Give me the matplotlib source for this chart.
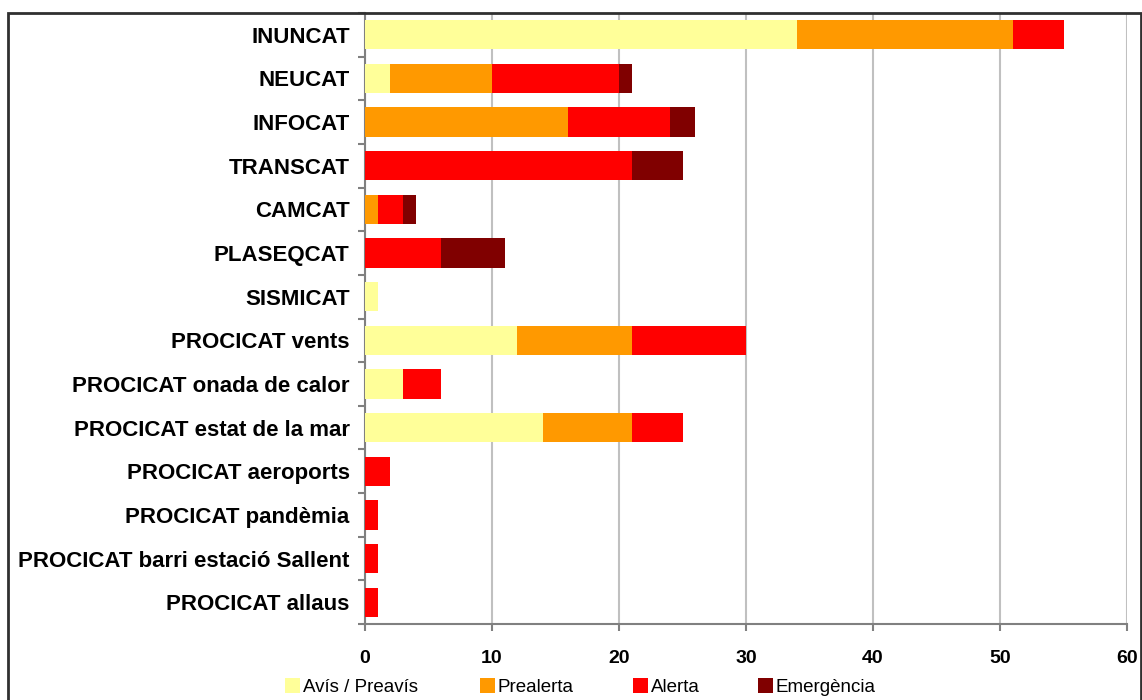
import matplotlib
matplotlib.use("Agg")
import matplotlib.pyplot as plt
from matplotlib.patches import Rectangle, Patch
import numpy as np

categories = ["INUNCAT", "NEUCAT", "INFOCAT", "TRANSCAT", "CAMCAT", "PLASEQCAT",
              "SISMICAT", "PROCICAT vents", "PROCICAT onada de calor",
              "PROCICAT estat de la mar", "PROCICAT aeroports", "PROCICAT pandèmia",
              "PROCICAT barri estació Sallent", "PROCICAT allaus"]
avis = [34, 2, 0, 0, 0, 0, 1, 12, 3, 14, 0, 0, 0, 0]
prealerta = [17, 8, 16, 0, 1, 0, 0, 9, 0, 7, 0, 0, 0, 0]
alerta = [4, 10, 8, 21, 2, 6, 0, 9, 3, 4, 2, 1, 1, 1]
emergencia = [0, 1, 2, 4, 1, 5, 0, 0, 0, 0, 0, 0, 0, 0]
series_names = ["Avís / Preavís", "Prealerta", "Alerta", "Emergència"]
colors = ["#FFFF99", "#FF9900", "#FF0000", "#800000"]
xticks = [0, 10, 20, 30, 40, 50, 60]

plt.rcParams['font.family'] = ['Liberation Sans', 'DejaVu Sans']

fig = plt.figure(figsize=(11.42, 7.0), dpi=100)
W, H = 1142, 700
ax = fig.add_axes([365 / W, 1 - 624 / H, (1127 - 365) / W, (624 - 13) / H])

y = np.arange(len(categories))
left = np.zeros(len(categories))
for vals, c, name in zip([avis, prealerta, alerta, emergencia], colors, series_names):
    ax.barh(y, vals, left=left, height=0.67, color=c, label=name, zorder=3)
    left = left + np.array(vals)

ax.set_ylim(len(categories) - 0.5, -0.5)
ax.set_xlim(0, 60)
ax.set_xticks(xticks)
ax.set_xticklabels([str(t) for t in xticks], fontsize=14, fontweight='bold')
ax.set_yticks(y)
ax.set_yticklabels(categories, fontsize=16, fontweight='bold')
ax.set_yticks(np.arange(len(categories) + 1) - 0.5, minor=True)
ax.tick_params(axis='y', which='major', length=0, pad=11)
ax.tick_params(axis='y', which='minor', length=5, width=1.5, color='#808080', direction='out')
ax.tick_params(axis='x', length=5, width=1.5, color='#808080', pad=14)
ax.grid(axis='x', color='#C0C0C0', linewidth=1.5, zorder=0)
for s in ['top', 'right']:
    ax.spines[s].set_visible(False)
for s in ['left', 'bottom']:
    ax.spines[s].set_color('#808080')
    ax.spines[s].set_linewidth(1.5)

# outer chart frame
fig.add_artist(Rectangle((8 / W, -0.01), (1141 - 8) / W, 1 - 13 / H + 0.01,
                         transform=fig.transFigure, fill=False,
                         edgecolor='#303030', linewidth=2))

legend_x = [285, 480, 633, 758]
for name, c, lx in zip(series_names, colors, legend_x):
    leg = fig.legend([Patch(facecolor=c, edgecolor='none')], [name], loc='center left',
                     bbox_to_anchor=(lx / W, 1 - 687 / H), frameon=False, fontsize=13.5,
                     handlelength=0.8, handleheight=0.8, handletextpad=0.15, borderpad=0,
                     borderaxespad=0)

fig.savefig("out.png", dpi=100)
